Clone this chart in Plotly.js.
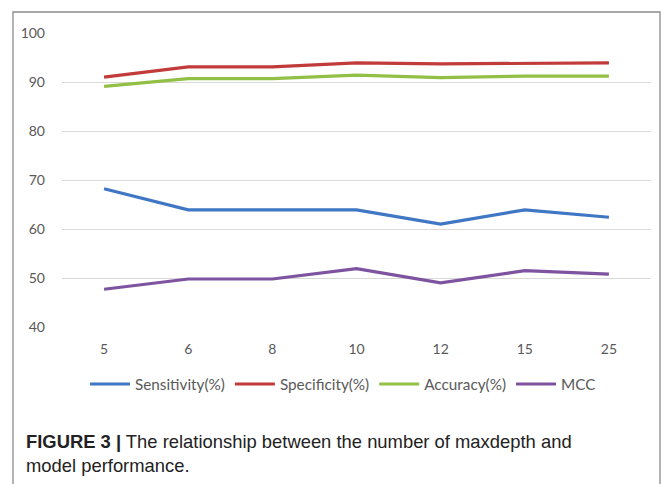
<!DOCTYPE html>
<html>
<head>
<meta charset="utf-8">
<script src="https://cdn.plot.ly/plotly-3.0.1.min.js"></script>
<style>
html,body{margin:0;padding:0;background:#fff;}
#chart{width:664px;height:484px;}
</style>
</head>
<body>
<div id="chart"></div>
<script>
var maxdepth = ['5', '6', '8', '10', '12', '15', '25'];
var sensitivity = [68.2, 63.9, 63.9, 63.9, 61.0, 63.9, 62.4];
var specificity = [91.0, 93.1, 93.1, 93.9, 93.7, 93.8, 93.9];
var accuracy = [89.1, 90.7, 90.7, 91.4, 90.9, 91.2, 91.2];
var mcc = [47.7, 49.8, 49.8, 51.9, 49.0, 51.5, 50.8];
var seriesNames = ['Sensitivity(%)', 'Specificity(%)', 'Accuracy(%)', 'MCC'];
var yTicks = [40, 50, 60, 70, 80, 90, 100];

var colors = ['#3F77C4', '#C23B3B', '#92BF45', '#7E53A0'];
var allSeries = [sensitivity, specificity, accuracy, mcc];

var traces = allSeries.map(function (vals, i) {
  return {
    type: 'scatter',
    mode: 'lines',
    x: maxdepth,
    y: vals,
    name: seriesNames[i],
    line: {color: colors[i], width: 3.2}
  };
});

var layout = {
  width: 664,
  height: 484,
  margin: {l: 62, r: 13, t: 33, b: 157},
  paper_bgcolor: '#ffffff',
  plot_bgcolor: '#ffffff',
  showlegend: true,
  font: {family: 'Lato, "Open Sans", sans-serif', color: '#595959', size: 13},
  xaxis: {
    type: 'category',
    range: [-0.5, 6.5],
    showgrid: false,
    zeroline: false,
    showline: false,
    ticks: '',
    ticklabelstandoff: 12,
    tickfont: {size: 14, color: '#595959'}
  },
  yaxis: {
    range: [40, 100],
    tickvals: yTicks,
    showgrid: true,
    gridcolor: '#d9d9d9',
    gridwidth: 1,
    zeroline: false,
    showline: false,
    ticks: '',
    ticklabelstandoff: 16,
    tickfont: {size: 14, color: '#595959'}
  },
  legend: {
    orientation: 'h',
    x: 0.477,
    xanchor: 'center',
    y: -0.194,
    yanchor: 'middle',
    font: {size: 15.3, color: '#595959'},
    itemwidth: 40,
    tracegroupgap: 0
  },
  shapes: [{
    type: 'rect',
    xref: 'paper', yref: 'paper',
    x0: -0.0832, x1: 1.0153,
    y0: 1.0714, y1: -0.6,
    line: {color: '#8c8c8c', width: 1.3},
    fillcolor: 'rgba(0,0,0,0)',
    layer: 'below'
  }],
  annotations: [{
    xref: 'paper', yref: 'paper',
    x: -0.0645, xanchor: 'left',
    y: -0.347, yanchor: 'top',
    align: 'left',
    showarrow: false,
    text: '<b>FIGURE 3 |</b> The relationship between the number of maxdepth and<br>model performance.',
    font: {family: '"Liberation Sans", Arial, sans-serif', size: 18.4, color: '#222222'}
  }]
};

Plotly.newPlot('chart', traces, layout, {displayModeBar: false, staticPlot: true});
</script>
</body>
</html>
